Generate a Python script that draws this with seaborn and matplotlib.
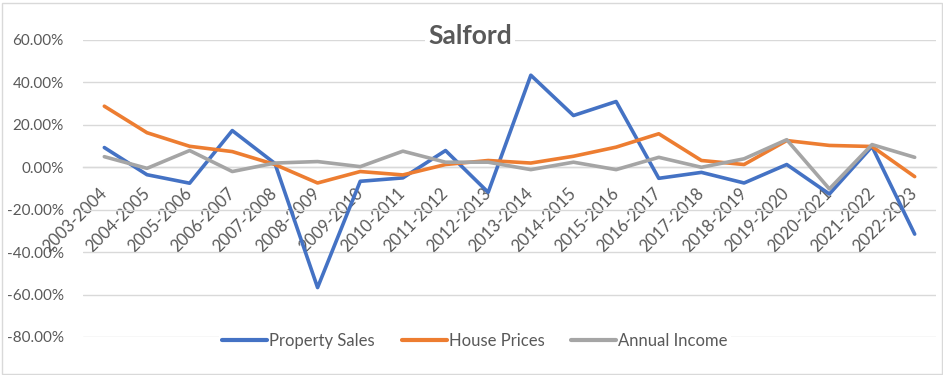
import matplotlib
matplotlib.use("Agg")
import matplotlib.pyplot as plt
from matplotlib.ticker import PercentFormatter, MultipleLocator
from matplotlib.patches import Rectangle
import seaborn as sns
import pandas as pd

categories = ["2003-2004", "2004-2005", "2005-2006", "2006-2007", "2007-2008",
              "2008-2009", "2009-2010", "2010-2011", "2011-2012", "2012-2013",
              "2013-2014", "2014-2015", "2015-2016", "2016-2017", "2017-2018",
              "2018-2019", "2019-2020", "2020-2021", "2021-2022", "2022-2023"]

property_sales = [0.093, -0.035, -0.075, 0.173, 0.018, -0.567, -0.066, -0.050, 0.079, -0.118,
                  0.434, 0.244, 0.310, -0.052, -0.024, -0.074, 0.013, -0.126, 0.098, -0.315]
house_prices = [0.288, 0.163, 0.099, 0.074, 0.013, -0.074, -0.020, -0.036, 0.013, 0.032,
                0.020, 0.052, 0.095, 0.158, 0.032, 0.013, 0.126, 0.103, 0.098, -0.044]
annual_income = [0.050, -0.005, 0.079, -0.020, 0.020, 0.027, 0.003, 0.076, 0.024, 0.024,
                 -0.011, 0.024, -0.011, 0.047, 0.000, 0.040, 0.130, -0.102, 0.107, 0.047]

series_names = ["Property Sales", "House Prices", "Annual Income"]
series_colors = ["#4472C4", "#ED7D31", "#A5A5A5"]

rows = []
for name, vals in zip(series_names, [property_sales, house_prices, annual_income]):
    for i, v in enumerate(vals):
        rows.append({"pos": i, "value": v, "series": name})
df = pd.DataFrame(rows)

sns.set_style("white")
plt.rcParams["font.family"] = ["Lato", "DejaVu Sans"]
plt.rcParams["axes.unicode_minus"] = False

W, H = 943, 375
fig = plt.figure(figsize=(W / 100, H / 100), dpi=100)
ax = fig.add_axes([83 / W, 1 - 337 / H, (936 - 83) / W, (337 - 40) / H])

sns.lineplot(data=df, x="pos", y="value", hue="series", hue_order=series_names,
             palette=dict(zip(series_names, series_colors)), linewidth=2.6,
             sort=False, ax=ax, zorder=3)

ax.set_xlim(-0.5, len(categories) - 0.5)
ax.set_ylim(-0.8, 0.6)
ax.yaxis.set_major_locator(MultipleLocator(0.2))
ax.yaxis.set_major_formatter(PercentFormatter(1.0, decimals=2))
ax.grid(axis="y", color="#D9D9D9", linewidth=1)
ax.grid(axis="x", visible=False)
ax.set_xlabel("")
ax.set_ylabel("")

for s in ["top", "right", "left"]:
    ax.spines[s].set_visible(False)
ax.spines["bottom"].set_position(("data", 0))
ax.spines["bottom"].set_color("#D9D9D9")
ax.spines["bottom"].set_linewidth(1)

ax.set_xticks(range(len(categories)))
ax.set_xticklabels(categories, rotation=45, ha="right", va="center",
                   rotation_mode="anchor", color="#595959", fontsize=12)
ax.tick_params(axis="x", length=0, pad=17)
ax.tick_params(axis="y", length=0, pad=14, labelcolor="#595959", labelsize=11)

ax.text(470 / W, 1 - 36 / H, "Salford", transform=fig.transFigure,
        ha="center", va="center", fontsize=19, fontweight="bold", color="#595959",
        bbox=dict(facecolor="white", edgecolor="none", pad=2), zorder=5)

handles, labels = ax.get_legend_handles_labels()
if ax.get_legend() is not None:
    ax.get_legend().remove()
leg = ax.legend(handles, labels, loc="center", bbox_to_anchor=(475 / W, 1 - 341 / H),
                bbox_transform=fig.transFigure, ncol=3, frameon=True, facecolor="white",
                edgecolor="none", framealpha=1, fontsize=12, handlelength=2.7,
                handletextpad=0.12, columnspacing=1.6, borderpad=0.2)
for t in leg.get_texts():
    t.set_color("#595959")
for h in leg.get_lines():
    h.set_linewidth(3)
    h.set_solid_capstyle("round")

fig.patches.append(Rectangle((1.5 / W, 1.5 / H), (W - 3) / W, (H - 4) / H,
                             transform=fig.transFigure, fill=False,
                             edgecolor="#D9D9D9", linewidth=1))

fig.savefig("out.png", dpi=100)
